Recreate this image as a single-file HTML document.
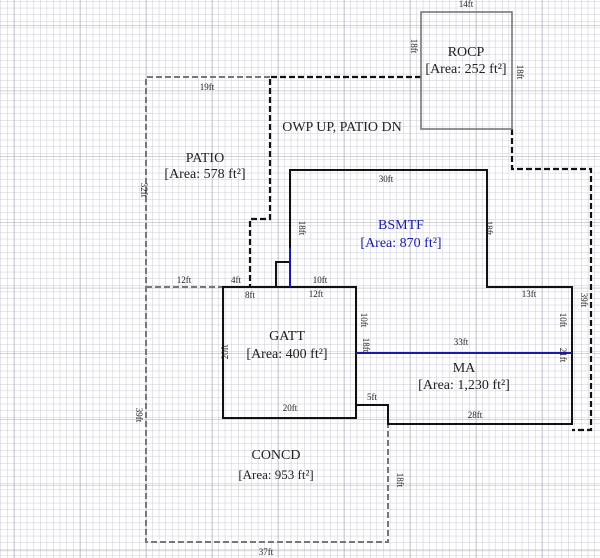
<!DOCTYPE html>
<html><head><meta charset="utf-8"><style>
html,body{margin:0;padding:0;background:#fff}
svg{display:block}
text{font-family:"Liberation Serif",serif;fill:#222}
</style></head><body>
<svg width="600" height="558" viewBox="0 0 600 558" xmlns="http://www.w3.org/2000/svg">
<defs>
<pattern id="minor" x="0.4" y="1.2" width="6.6" height="6.6" patternUnits="userSpaceOnUse">
<path d="M0 0H6.6M0 0V6.6" stroke="#c9c9d6" stroke-width="1" fill="none"/>
</pattern>
<pattern id="major" x="14" y="25" width="66" height="65.7" patternUnits="userSpaceOnUse">
<path d="M0 0H66M0 0V66" stroke="#a8a8b4" stroke-width="1" fill="none"/>
</pattern>
</defs>
<rect width="600" height="558" fill="#fff"/>
<rect width="600" height="558" fill="url(#minor)"/>
<rect width="600" height="558" fill="url(#major)"/>

<g fill="none" stroke="#777" stroke-width="2" stroke-dasharray="6,3">
<path d="M270 77H146V542H388V424"/>
<path d="M146 287H223"/>
</g>
<g fill="none" stroke="#111" stroke-width="2.2" stroke-dasharray="6,3">
<path d="M421 77H270V219H250V287"/>
<path d="M512 129V169H591V430H572"/>
</g>
<rect x="421" y="12" width="91" height="117" fill="none" stroke="#777" stroke-width="1.6"/>
<g fill="none" stroke="#111" stroke-width="2">
<rect x="223" y="287" width="133" height="131"/>
<path d="M290 248V170H487V287H572V424H388V405H356"/>
<path d="M276 287V262H290"/>
</g>
<path d="M290 248V287" stroke="#1a1aa8" stroke-width="2"/>
<path d="M356 353H572" stroke="#1a1aa8" stroke-width="2"/>

<g font-size="14" text-anchor="middle">
<text x="466" y="56">ROCP</text>
<text x="466" y="73">[Area: 252 ft²]</text>
<text x="342" y="131">OWP UP, PATIO DN</text>
<text x="205" y="162">PATIO</text>
<text x="205" y="178">[Area: 578 ft²]</text>
<text x="401" y="229" style="fill:#1a1aa8">BSMTF</text>
<text x="401" y="247" style="fill:#1a1aa8">[Area: 870 ft²]</text>
<text x="287" y="340">GATT</text>
<text x="287" y="358">[Area: 400 ft²]</text>
<text x="464" y="372">MA</text>
<text x="464" y="389">[Area: 1,230 ft²]</text>
<text x="276" y="459">CONCD</text>
<text x="276" y="479" font-size="13">[Area: 953 ft²]</text>
</g>
<g font-size="9" text-anchor="middle">
<text x="466" y="7">14ft</text>
<text x="207" y="90">19ft</text>
<text x="386" y="182">30ft</text>
<text x="184" y="283">12ft</text>
<text x="236" y="283">4ft</text>
<text x="250" y="298">8ft</text>
<text x="320" y="283">10ft</text>
<text x="316" y="297">12ft</text>
<text x="529" y="297">13ft</text>
<text x="461" y="345">33ft</text>
<text x="290" y="411">20ft</text>
<text x="372" y="400">5ft</text>
<text x="475" y="418">28ft</text>
<text x="266" y="555">37ft</text>
</g>
<g font-size="9" text-anchor="middle">
<text transform="translate(141,190) rotate(90)">32ft</text>
<text transform="translate(136,415) rotate(90)">39ft</text>
<text transform="translate(228,352) rotate(-90)">20ft</text>
<text transform="translate(299,228) rotate(90)">18ft</text>
<text transform="translate(486,228) rotate(90)">18ft</text>
<text transform="translate(363,345) rotate(90)">18ft</text>
<text transform="translate(361,320) rotate(90)">10ft</text>
<text transform="translate(560,320) rotate(90)">10ft</text>
<text transform="translate(560,355) rotate(90)">21ft</text>
<text transform="translate(581,300) rotate(90)">39ft</text>
<text transform="translate(517,72) rotate(90)">18ft</text>
<text transform="translate(411,46) rotate(90)">18ft</text>
<text transform="translate(397,480) rotate(90)">18ft</text>
</g>
</svg>
</body></html>
